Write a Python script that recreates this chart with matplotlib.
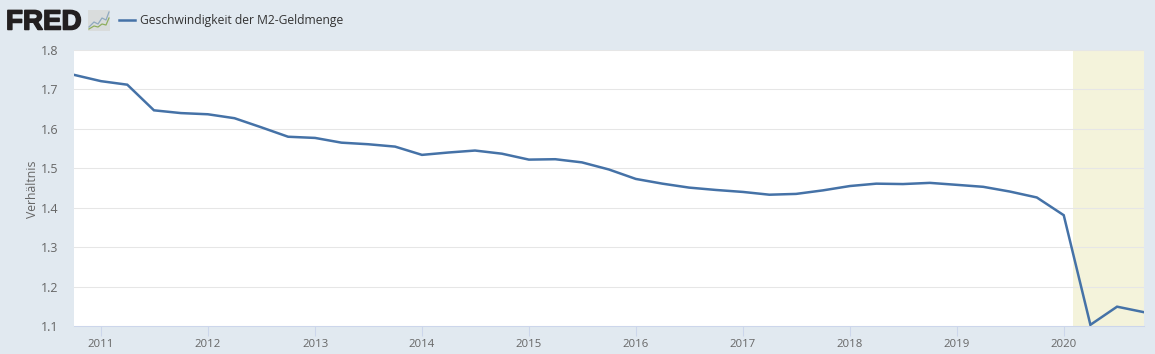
import matplotlib
matplotlib.use('Agg')
import matplotlib.pyplot as plt
import matplotlib.dates as mdates
import matplotlib.patheffects as pe
import pandas as pd
from matplotlib.lines import Line2D
from matplotlib.patches import Rectangle

plt.rcParams['font.family'] = ['Open Sans', 'DejaVu Sans']

series_name = 'Geschwindigkeit der M2-Geldmenge'
y_label = 'Verhältnis'
y_ticks = [1.1, 1.2, 1.3, 1.4, 1.5, 1.6, 1.7, 1.8]
years = list(range(2011, 2021))
recession = ['2020-02-01', '2020-10-01']

velocity = [1.737,
            1.721, 1.712, 1.647, 1.640,
            1.637, 1.627, 1.604, 1.580,
            1.577, 1.565, 1.561, 1.555,
            1.534, 1.540, 1.545, 1.537,
            1.522, 1.523, 1.515, 1.497,
            1.473, 1.461, 1.451, 1.445,
            1.440, 1.433, 1.435, 1.444,
            1.455, 1.461, 1.460, 1.463,
            1.458, 1.453, 1.441, 1.426,
            1.381, 1.103, 1.149, 1.135]
quarters = pd.date_range('2010-10-01', periods=len(velocity), freq='QS')

W, H = 1155, 354
bg = '#e1e9f0'
blue = '#4572a7'

fig = plt.figure(figsize=(W / 100, H / 100), dpi=100, facecolor=bg)
ax = fig.add_axes([74 / W, 1 - 326 / H, 1070 / W, 276 / H])
ax.set_facecolor('white')

ax.axvspan(pd.Timestamp(recession[0]), pd.Timestamp(recession[1]), color='#f4f3db', lw=0, zorder=1)
ax.plot(quarters, velocity, color=blue, lw=1.8, zorder=3, solid_joinstyle='miter')

ax.set_xlim(quarters[0], quarters[-1])
ax.set_ylim(1.1, 1.8)
ax.set_yticks(y_ticks)
ax.set_yticklabels(['%.1f' % v for v in y_ticks])
ax.set_xticks([pd.Timestamp(str(y) + '-01-01') for y in years])
ax.xaxis.set_major_formatter(mdates.DateFormatter('%Y'))
ax.grid(axis='y', color='#e6e6e6', lw=0.75, zorder=2)
ax.set_axisbelow(False)
for s in ['top', 'right', 'left']:
    ax.spines[s].set_visible(False)
ax.spines['bottom'].set_color('#ccd6eb')
ax.spines['bottom'].set_linewidth(0.75)
ax.tick_params(axis='y', length=0, pad=11, labelsize=9, labelcolor='#666666')
ax.tick_params(axis='x', length=7, width=0.75, color='#ccd6eb', pad=2.5, labelsize=8.2, labelcolor='#666666')
fig.text(32 / W, 1 - 189 / H, y_label, rotation=90, ha='center', va='center', fontsize=8.8, color='#666666')

# header: logo, icon, legend
fig.text(6 / W, 1 - 29.5 / H, 'FRED', family='Liberation Sans', weight='bold', fontsize=20,
         color='#231f20', ha='left', va='baseline',
         path_effects=[pe.withStroke(linewidth=1.1, foreground='#231f20')])
fig.patches.append(Rectangle((88 / W, 1 - 31 / H), 22 / W, 21 / H, transform=fig.transFigure,
                             facecolor='#d9dcdc', edgecolor='none'))
icon_x = [89, 94, 98, 102, 106, 109]
fig.add_artist(Line2D([x / W for x in icon_x], [1 - y / H for y in [27, 22, 24, 18, 20, 12]],
                      color='#8fa9bf', lw=0.9))
fig.add_artist(Line2D([x / W for x in icon_x], [1 - y / H for y in [29, 26, 27, 24, 25, 18]],
                      color='#8fae5f', lw=0.9))
fig.add_artist(Line2D([119 / W, 135 / W], [1 - 20 / H, 1 - 20 / H], color=blue, lw=1.8))
fig.text(139.5 / W, 1 - 20.5 / H, series_name, fontsize=8.75, color='#333333', ha='left', va='center')

fig.savefig('out.png', dpi=100, facecolor=bg)
